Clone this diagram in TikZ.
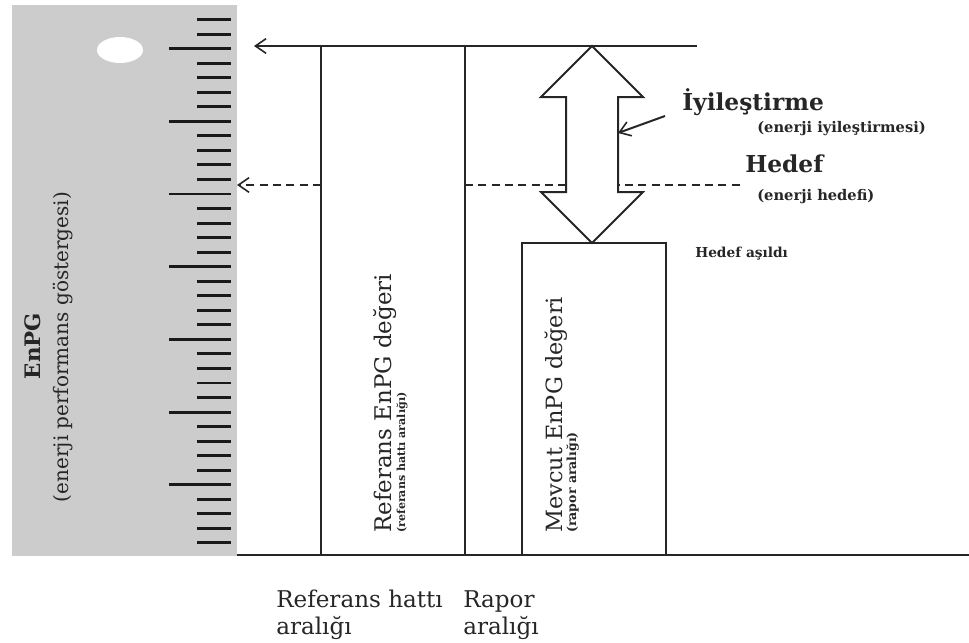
\documentclass[tikz,border=0pt]{standalone}
\usepackage{fontspec}
\setmainfont{DejaVu Serif}
\usetikzlibrary{arrows.meta}

\begin{document}
\begin{tikzpicture}[x=0.75pt,y=-0.75pt,
  line/.style={line width=1.5pt, black!85},
  tick/.style={line width=2.2pt, black!90},
  barb/.style={-{Straight Barb[length=8pt,width=11pt,line width=1.2pt]}},
  lbl/.style={inner sep=0pt, text=black!85}]
\useasboundingbox (0,0) rectangle (969,642);

% scale band on the left
\fill[black!20] (12,5) rectangle (237,556);
\fill[white] (120,50) ellipse [x radius=23, y radius=13];
\foreach \i in {0,...,36}{
  \pgfmathsetmacro\yy{19.5+14.54*\i}
  \pgfmathtruncatemacro\m{mod(\i+3,5)}
  \ifnum\m=0
    \draw[tick] (169,\yy) -- (231,\yy);
  \else
    \draw[tick] (197,\yy) -- (231,\yy);
  \fi
}

% key coordinates
\coordinate (axL) at (237,555);
\coordinate (axR) at (969,555);
\coordinate (topR) at (697,46);
\coordinate (topTip) at (254,46);
\coordinate (refL) at (321,46);
\coordinate (refLb) at (321,555);
\coordinate (repL) at (465,46);
\coordinate (repLb) at (465,555);
\coordinate (dashTip) at (237,185);
\coordinate (dashA) at (321,185);
\coordinate (dashB) at (465,185);
\coordinate (dashC) at (743,185);

% axis and interval lines
\draw[line] (axL) -- (axR);
\draw[line] (refL) -- (refLb);
\draw[line] (repL) -- (repLb);
\draw[line, barb] (topR) -- (topTip);
\draw[line, dash pattern=on 6pt off 4pt, barb] (dashA) -- (dashTip);
\draw[line, dash pattern=on 6pt off 4pt] (dashB) -- (dashC);

% current value box
\draw[line] (522,555) -- (522,243) -- (666,243) -- (666,555);

% improvement double arrow
\draw[line, fill=white, line join=miter]
  (592,46) -- (643,97) -- (618,97) -- (618,192) -- (643,192) -- (592,243)
  -- (541,192) -- (566,192) -- (566,97) -- (541,97) -- cycle;
\coordinate (shaft) at (618,133);
\coordinate (ptr) at (665,116);
\draw[line, barb] (ptr) -- (shaft);

% labels on the right
\node[lbl, anchor=base west, font=\fontsize{17.5}{17.5}\selectfont\bfseries] (iyi) at (682,110) {İyileştirme};
\node[lbl, anchor=base west, font=\fontsize{11}{11}\selectfont\bfseries] (iyis) at (757,132) {(enerji iyileştirmesi)};
\node[lbl, anchor=base west, font=\fontsize{17.5}{17.5}\selectfont\bfseries] (hed) at (745,172) {Hedef};
\node[lbl, anchor=base west, font=\fontsize{11}{11}\selectfont\bfseries] (heds) at (757,200) {(enerji hedefi)};
\node[lbl, anchor=base west, font=\fontsize{10.3}{10.3}\selectfont\bfseries] (asil) at (695,257) {Hedef aşıldı};

% rotated labels
\node[lbl, rotate=90, anchor=base, font=\fontsize{16}{16}\selectfont\bfseries] (enpg) at (40,346) {EnPG};
\node[lbl, rotate=90, anchor=base, font=\fontsize{15}{15}\selectfont] (enpgs) at (68,347) {(enerji performans göstergesi)};
\node[lbl, rotate=90, anchor=base west, font=\fontsize{17.2}{17.2}\selectfont] (refv) at (391,533) {Referans EnPG değeri};
\node[lbl, rotate=90, anchor=base west, font=\fontsize{8.3}{8.3}\selectfont\bfseries] (refs) at (405,533) {(referans hattı aralığı)};
\node[lbl, rotate=90, anchor=base west, font=\fontsize{16.8}{16.8}\selectfont] (mevv) at (562,533) {Mevcut EnPG değeri};
\node[lbl, rotate=90, anchor=base west, font=\fontsize{9.4}{9.4}\selectfont\bfseries] (mevs) at (576,533) {(rapor aralığı)};

% interval names under the axis (anchored on the second line's baseline)
\node[lbl, anchor=base west, align=left, font=\fontsize{17.3}{20}\selectfont] (refa) at (276,634) {Referans hattı\\aralığı};
\node[lbl, anchor=base west, align=left, font=\fontsize{17.3}{20}\selectfont] (repa) at (463,634) {Rapor\\aralığı};
\end{tikzpicture}
\end{document}
